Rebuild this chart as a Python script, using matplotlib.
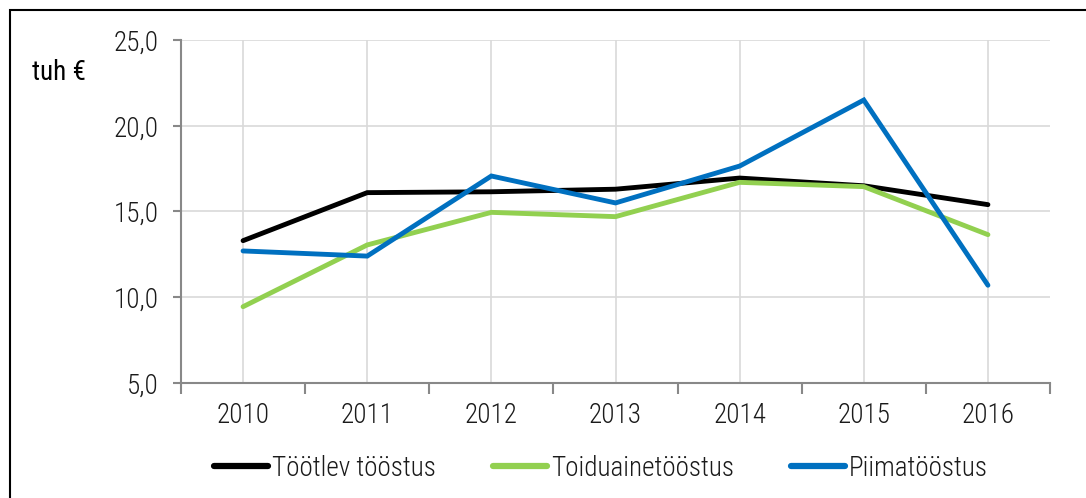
import matplotlib
matplotlib.use("Agg")
import matplotlib.pyplot as plt
from matplotlib.patches import Rectangle
from matplotlib import font_manager
import numpy as np

years = ["2010", "2011", "2012", "2013", "2014", "2015", "2016"]
tootlev = [13.3, 16.1, 16.15, 16.3, 16.95, 16.5, 15.4]
toiduaine = [9.45, 13.05, 14.95, 14.7, 16.7, 16.45, 13.65]
piima = [12.7, 12.4, 17.07, 15.5, 17.65, 21.5, 10.7]
series_names = ["Töötlev tööstus", "Toiduainetööstus", "Piimatööstus"]
y_ticks = [5.0, 10.0, 15.0, 20.0, 25.0]
unit_label = "tuh €"

names = {f.name for f in font_manager.fontManager.ttflist}
fam = "Roboto"
for cand in ["Roboto Condensed", "Liberation Sans Narrow", "Open Sans Condensed", "Noto Sans Condensed"]:
    if cand in names:
        fam = cand
        break
plt.rcParams['font.family'] = [fam, 'DejaVu Sans']
plt.rcParams['font.weight'] = 'light'

FS = 19.5
W, H = 1086, 498
fig = plt.figure(figsize=(W/100, H/100), dpi=100)
fig.patches.append(Rectangle((10/W, -0.01), 1.2, (H-10)/H + 0.01, transform=fig.transFigure,
                             fill=False, edgecolor='black', linewidth=1.5))

ax = fig.add_axes([181/W, 1 - 383/H, (1050-181)/W, (383-40)/H])
x = np.arange(len(years))
colors = ['#000000', '#92D050', '#0070C0']
for vals, c, n in zip([tootlev, toiduaine, piima], colors, series_names):
    ax.plot(x, vals, color=c, linewidth=3.5, label=n, solid_capstyle='round', solid_joinstyle='miter')

txtc = '#1a1a1a'
ax.set_xlim(-0.5, len(years) - 0.5)
ax.set_ylim(5, 25)
ax.set_yticks(y_ticks)
ax.set_yticklabels([f"{v:.1f}".replace('.', ',') for v in y_ticks])
ax.set_xticks(x)
ax.set_xticklabels(years)
ax.set_xticks(np.arange(-0.5, len(years)), minor=True)
ax.tick_params(axis='x', which='major', length=0, pad=14, labelsize=FS, labelcolor=txtc)
ax.tick_params(axis='x', which='minor', length=8, color='#888888', width=1.5)
ax.tick_params(axis='y', length=6, color='#888888', width=1.5, pad=10, labelsize=FS, labelcolor=txtc)
ax.grid(True, which='major', color='#d9d9d9', linewidth=1.2)
ax.set_axisbelow(True)
for s in ['top', 'right']:
    ax.spines[s].set_visible(False)
for s in ['left', 'bottom']:
    ax.spines[s].set_color('#888888')
    ax.spines[s].set_linewidth(1.5)

fig.text(32/W, 1 - 72/H, unit_label, fontsize=FS, va='center', ha='left', color='black',
         fontweight='normal')

leg = fig.legend(loc='center', bbox_to_anchor=(601/W, 1 - 468/H), ncol=3, frameon=False,
                 fontsize=FS, handlelength=2.0, handletextpad=0.15, columnspacing=2.1)
for l in leg.get_lines():
    l.set_linewidth(4.5)
for t in leg.get_texts():
    t.set_color(txtc)

fig.savefig("out.png", dpi=100)
